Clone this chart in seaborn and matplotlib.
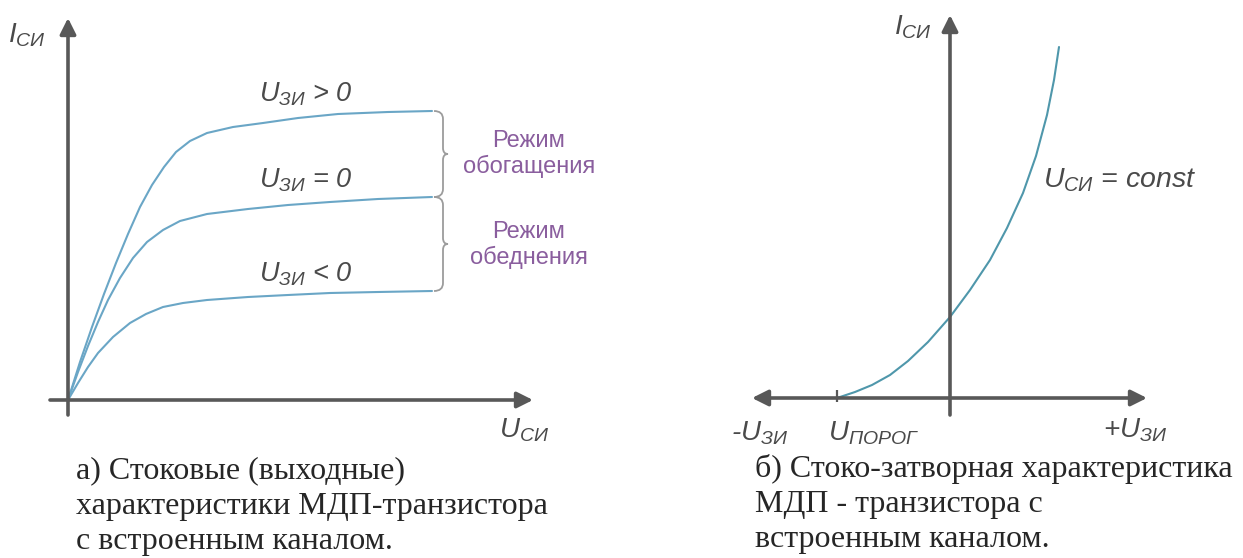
import numpy as np
import pandas as pd
import matplotlib
matplotlib.use("Agg")
import matplotlib.pyplot as plt
from matplotlib.path import Path
from matplotlib.patches import PathPatch
import seaborn as sns

# --- data (axis units ~ pixels from origin) ---
# a) drain (output) characteristics
u_top = [0, 12, 24, 36, 48, 60, 72, 84, 96, 108, 122, 139, 165, 195, 230, 270, 320, 364]
i_top = [0, 38, 73, 106, 137, 166, 193, 215, 233, 248, 259, 267, 273, 277, 282, 286, 288, 289]
u_mid = [0, 10, 20, 30, 40, 52, 65, 79, 95, 112, 139, 180, 220, 262, 310, 364]
i_mid = [0, 28, 54, 78, 100, 122, 142, 158, 170, 179, 186, 191, 195, 198, 201, 203]
u_low = [0, 10, 20, 30, 45, 62, 78, 95, 115, 139, 180, 220, 262, 310, 364]
i_low = [0, 17, 33, 47, 63, 77, 86, 93, 97, 100, 103, 105, 107, 108, 109]
series_labels = [r"$U_{ЗИ}$ > 0", r"$U_{ЗИ}$ = 0", r"$U_{ЗИ}$ < 0"]

# b) transfer characteristic
u_gate = [-113, -95, -78, -60, -42, -22, 0, 20, 40, 57, 73, 86, 97, 104, 109]
i_gate = [0, 6, 13, 23, 37, 56, 81, 108, 138, 170, 205, 242, 283, 318, 351]
u_threshold = -113

caption_a = ["а) Стоковые (выходные)",
             "характеристики МДП-транзистора",
             "с встроенным каналом."]
caption_b = ["б) Стоко-затворная характеристика",
             "МДП - транзистора с",
             "встроенным каналом."]

sns.set_style("white")
plt.rcParams["mathtext.fontset"] = "custom"
plt.rcParams["mathtext.it"] = "Liberation Sans:italic"
plt.rcParams["mathtext.rm"] = "Liberation Sans:italic"
plt.rcParams["font.family"] = ["Liberation Sans", "DejaVu Sans"]

W, H = 1243, 558
fig = plt.figure(figsize=(W / 100, H / 100), dpi=100)
ax1 = fig.add_axes([0, 0, 0.5, 1])
ax2 = fig.add_axes([0.5, 0, 0.5, 1])
ax1.set_xlim(-68, W / 2 - 68)
ax1.set_ylim(400 - H, 400)
ax2.set_xlim(W / 2 - 950, W - 950)
ax2.set_ylim(398 - H, 398)
for ax in (ax1, ax2):
    ax.axis("off")

axis_col = "#585858"
curve_col = "#6aa6c6"
curve_col2 = "#4f97ab"
label_col = "#4a4a4a"
purple = "#8a5e9e"
arrow = dict(arrowstyle="-|>", color=axis_col, lw=2.6, mutation_scale=24,
             shrinkA=0, shrinkB=0)

# ---------- a) ----------
df = pd.concat([
    pd.DataFrame({"u": u_top, "i": i_top, "s": "top"}),
    pd.DataFrame({"u": u_mid, "i": i_mid, "s": "mid"}),
    pd.DataFrame({"u": u_low, "i": i_low, "s": "low"}),
])
sns.lineplot(data=df, x="u", y="i", hue="s", palette=[curve_col] * 3,
             estimator=None, sort=False, legend=False, linewidth=1.5, ax=ax1)
ax1.set_xlabel("")
ax1.set_ylabel("")

ax1.annotate("", xy=(465, 0), xytext=(-18, 0), arrowprops=arrow)
ax1.annotate("", xy=(0, 382), xytext=(0, -15), arrowprops=arrow)

ax1.text(-41, 365, r"$I_{СИ}$", fontsize=20, color=label_col, ha="center", va="center")
ax1.text(456, -30, r"$U_{СИ}$", fontsize=20, color=label_col, ha="center", va="center")

ends = [i_top[-1], i_mid[-1], i_low[-1]]
for lab, yv in zip(series_labels, ends):
    ax1.text(238, yv + 17, lab, fontsize=19.5, color=label_col, style="italic",
             ha="center", va="center")

# curly braces between curve ends
xe = u_top[-1]
xb, xt = xe + 11, xe + 16
for y1, y2 in [(ends[0], ends[1]), (ends[1], ends[2])]:
    ym = (y1 + y2) / 2
    verts = [(xe + 2, y1), (xb, y1), (xb, y1 - 8),
             (xb, ym + 6),
             (xb, ym), (xt, ym),
             (xb, ym), (xb, ym - 6),
             (xb, y2 + 8),
             (xb, y2), (xe + 2, y2)]
    codes = [Path.MOVETO, Path.CURVE3, Path.CURVE3,
             Path.LINETO,
             Path.CURVE3, Path.CURVE3,
             Path.CURVE3, Path.CURVE3,
             Path.LINETO,
             Path.CURVE3, Path.CURVE3]
    ax1.add_patch(PathPatch(Path(verts, codes), fill=False, ec="#9c9c9c", lw=1.3))

ax1.text(461, 246, "Режим\nобогащения", fontsize=17, color=purple,
         ha="center", va="center", linespacing=1.2)
ax1.text(461, 155, "Режим\nобеднения", fontsize=17, color=purple,
         ha="center", va="center", linespacing=1.2)

# ---------- b) ----------
sns.lineplot(x=u_gate, y=i_gate, color=curve_col2, estimator=None, sort=False,
             linewidth=1.5, ax=ax2)
ax2.annotate("", xy=(197, 0), xytext=(-198, 0),
             arrowprops=dict(arrow, arrowstyle="<|-|>"))
ax2.annotate("", xy=(0, 383), xytext=(0, -17), arrowprops=arrow)
ax2.vlines(u_threshold, -4, 8, color=axis_col, lw=1.6)

ax2.text(-37, 371, r"$I_{СИ}$", fontsize=20, color=label_col, ha="center", va="center")
ax2.text(93, 218, r"$U_{СИ}$ = const", fontsize=20.5, color=label_col, style="italic",
         ha="left", va="center")
ax2.text(-190, -35, r"-$U_{ЗИ}$", fontsize=20, color=label_col, style="italic",
         ha="center", va="center")
ax2.text(-76, -35, r"$U_{ПОРОГ}$", fontsize=20, color=label_col, ha="center", va="center")
ax2.text(185, -32, r"+$U_{ЗИ}$", fontsize=20, color=label_col, style="italic",
         ha="center", va="center")

# captions
for k, line in enumerate(caption_a):
    fig.text(76 / W, 1 - (471 + 35.5 * k) / H, line, fontsize=23,
             family="Liberation Serif", ha="left", va="center")
for k, line in enumerate(caption_b):
    fig.text(755 / W, 1 - (469 + 35.5 * k) / H, line, fontsize=23,
             family="Liberation Serif", ha="left", va="center")

fig.savefig("out.png", dpi=100)
